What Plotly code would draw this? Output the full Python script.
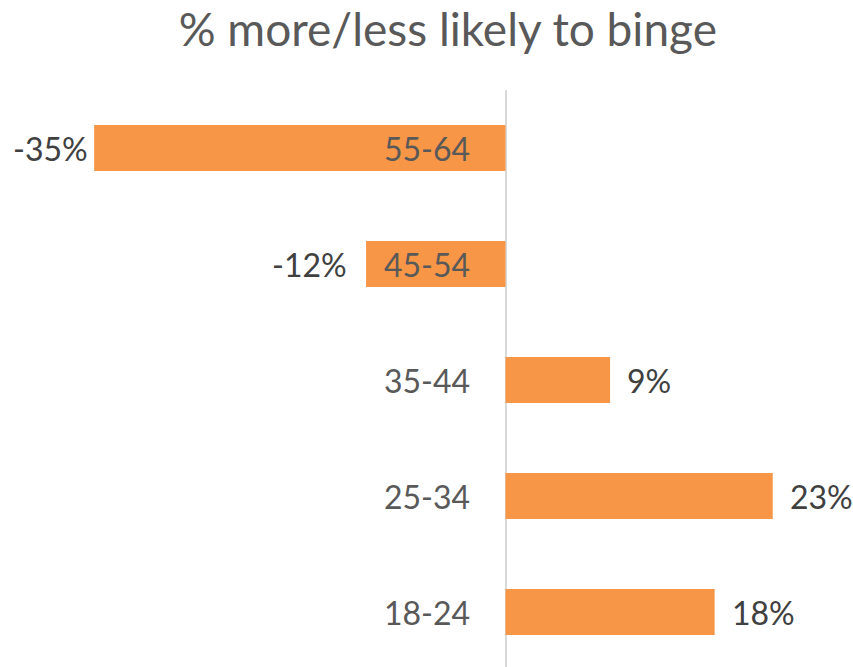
import plotly.graph_objects as go

categories = ["18-24", "25-34", "35-44", "45-54", "55-64"]
values = [18, 23, 9, -12, -35.4]
title_text = "% more/less likely to binge"

BAR = "#F79646"
FONT = "Lato"
W, H = 853, 667
TOP = 90
ZERO_PX = 505.5
PX_PER_UNIT = 11.62
BAND = 116

x_range = [-ZERO_PX / PX_PER_UNIT, (W - ZERO_PX) / PX_PER_UNIT]
plot_h = H - TOP
n = len(categories)
y_range = [n - 0.5 - plot_h / BAND, n - 0.5]

fig = go.Figure(go.Bar(
    x=values, y=categories, orientation="h",
    marker=dict(color=BAR, line=dict(width=0)),
    hoverinfo="skip",
))

annotations = []
for cat, v in zip(categories, values):
    # category label just left of the zero line
    annotations.append(dict(
        x=0, y=cat, xref="x", yref="y", text=cat, showarrow=False,
        xanchor="right", yanchor="middle", xshift=-34,
        font=dict(family=FONT, size=32, color="#595959"),
    ))
    label = f"{v:.0f}%"
    if v >= 0:
        annotations.append(dict(
            x=v, y=cat, xref="x", yref="y", text=label, showarrow=False,
            xanchor="left", yanchor="middle", xshift=15,
            font=dict(family=FONT, size=32, color="#404040"),
        ))
    else:
        bar_left_px = ZERO_PX + v * PX_PER_UNIT
        if bar_left_px - 16 - 80 < 0:
            # clamp to the chart's left edge
            annotations.append(dict(
                x=0, y=cat, xref="paper", yref="y", text=label, showarrow=False,
                xanchor="left", yanchor="middle", xshift=11,
                font=dict(family=FONT, size=32, color="#404040"),
            ))
        else:
            annotations.append(dict(
                x=v, y=cat, xref="x", yref="y", text=label, showarrow=False,
                xanchor="right", yanchor="middle", xshift=-17,
                font=dict(family=FONT, size=32, color="#404040"),
            ))

fig.update_layout(
    width=W, height=H,
    margin=dict(l=0, r=0, t=TOP, b=0, pad=0),
    paper_bgcolor="white", plot_bgcolor="white",
    showlegend=False,
    bargap=1 - 46 / BAND,
    title=dict(text=title_text, x=0.525, xanchor="center",
               y=1 - 30 / H, yanchor="middle", yref="container",
               font=dict(family=FONT, size=46, color="#595959")),
    xaxis=dict(range=x_range, showgrid=False, showticklabels=False,
               zeroline=True, zerolinecolor="#D9D9D9", zerolinewidth=1.5,
               showline=False, ticks=""),
    yaxis=dict(type="category", categoryorder="array", categoryarray=categories,
               range=y_range, showgrid=False, showticklabels=False,
               showline=False, ticks="", zeroline=False),
    annotations=annotations,
)

fig.write_html("out.html")
